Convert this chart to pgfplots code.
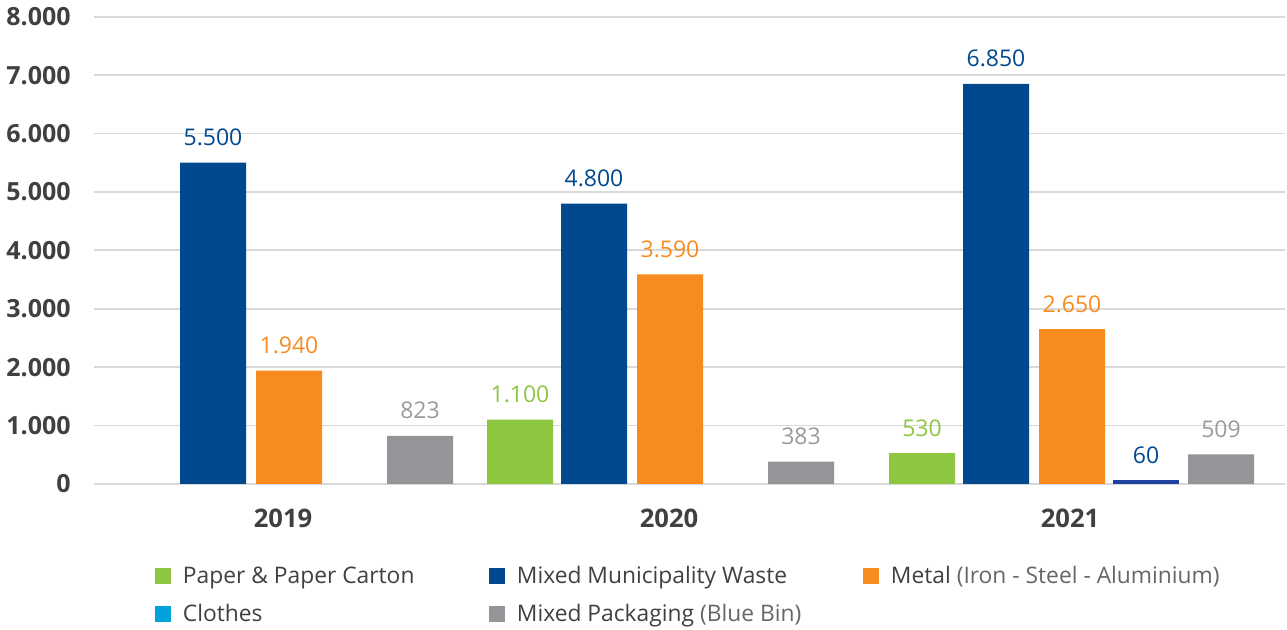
\documentclass[border=0pt]{standalone}
\usepackage{pgfplots}
\pgfplotsset{compat=1.18}
\usepackage{fontspec}
\setmainfont{Open Sans}
\definecolor{cgreen}{HTML}{8DC63F}
\definecolor{cblue}{HTML}{00498F}
\definecolor{corange}{HTML}{F68B1F}
\definecolor{clight}{HTML}{00A1DE}
\definecolor{croyal}{HTML}{2141A0}
\definecolor{cgray}{HTML}{939598}
\definecolor{cgraytxt}{HTML}{9A9A9A}
\definecolor{ctxt}{HTML}{404040}
\definecolor{cgrid}{HTML}{D9D9D9}
\pgfkeys{/pgf/number format/.cd, fixed, precision=0, 1000 sep={.}}
\begin{document}
\begin{tikzpicture}
\path[use as bounding box] (0,0) rectangle (643.5pt,315pt);
\begin{axis}[
  at={(47pt,73pt)}, anchor=south west,
  scale only axis, width=595.5pt, height=233.65pt,
  xmin=94, xmax=1285, ymin=0, ymax=8000,
  axis line style={draw=none},
  major tick length=0pt,
  ytick={0,1000,...,8000},
  scaled y ticks=false,
  ymajorgrids, grid style={cgrid, line width=0.9pt},
  /pgf/number format/assume math mode=true,
  yticklabel style={font=\fontsize{12.5}{14}\selectfont\bfseries, text=ctxt, inner sep=0pt, anchor=east, xshift=-11.5pt},
  xtick={283,669,1070},
  xticklabels={2019,2020,2021},
  xticklabel style={font=\fontsize{12.8}{14}\selectfont\bfseries, text=ctxt, inner sep=0pt, anchor=north, yshift=-12.5pt},
  ybar, bar width=66,
  point meta=y,
  nodes near coords={\pgfmathprintnumber{\pgfplotspointmeta}},
  every node near coord/.append style={font=\fontsize{11.5}{13}\selectfont, anchor=base, inner sep=0pt, yshift=8.5pt},
  legend columns=3,
  legend cell align=left,
  legend style={at={(0.0512,-0.1783)}, anchor=north west, draw=none, fill=none, inner sep=0pt, outer sep=0pt,
    font=\fontsize{11.4}{13}\selectfont, text=ctxt,
    nodes={inner sep=0pt, anchor=base west, text height=8pt, text depth=2.5pt},
    row sep=8.7pt,
    /tikz/every odd column/.append style={column sep=6pt}},
  legend image code/.code={\fill[#1] (0pt,-0.1pt) rectangle (8pt,7.9pt);},
]
\addplot[bar shift=0pt, fill=cgreen, draw=none, every node near coord/.append style={text=cgreen}]
  coordinates {(520,1100) (922,530)};
\addplot[bar shift=0pt, fill=cblue, draw=none, every node near coord/.append style={text=cblue}]
  coordinates {(213,5500) (594,4800) (996,6850)};
\addplot[bar shift=0pt, fill=corange, draw=none, every node near coord/.append style={text=corange}]
  coordinates {(289,1940) (670,3590) (1072,2650)};
\addplot[bar shift=0pt, fill=croyal, draw=none, every node near coord/.append style={text=cblue},
  legend image code/.code={\fill[clight] (0pt,-0.1pt) rectangle (8pt,7.9pt);}]
  coordinates {(1146,60)};
\addplot[bar shift=0pt, fill=cgray, draw=none, every node near coord/.append style={text=cgraytxt}]
  coordinates {(420,823) (801,383) (1221,509)};
\legend{{\makebox[153pt][l]{Paper \& Paper Carton}},
  {\makebox[173pt][l]{Mixed Municipality Waste}},
  {Metal {\color{ctxt!80}(Iron - Steel - Aluminium)}},
  {\makebox[153pt][l]{Clothes}},
  {\makebox[173pt][l]{Mixed Packaging {\color{ctxt!80}(Blue Bin)}}}}
\end{axis}
\end{tikzpicture}
\end{document}
